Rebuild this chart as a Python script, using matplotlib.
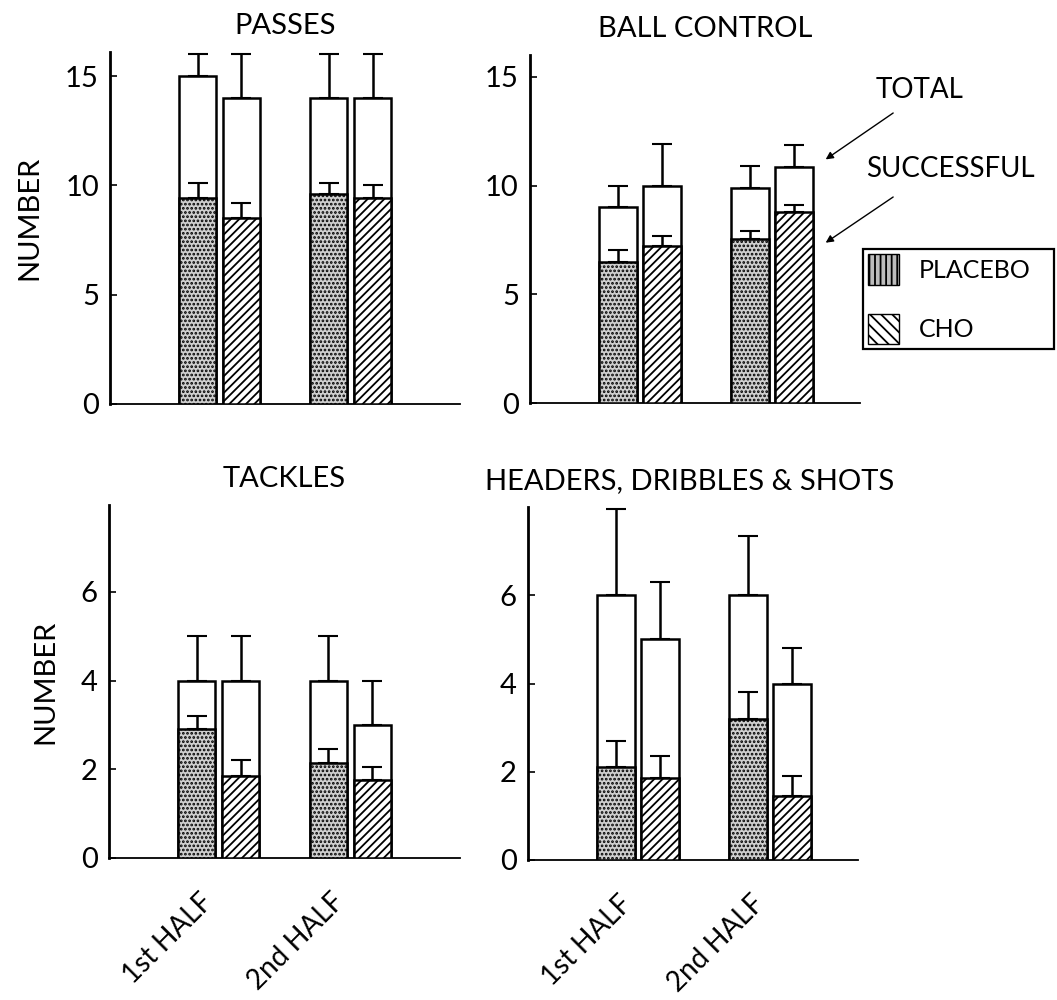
import matplotlib
matplotlib.use("Agg")
import matplotlib.pyplot as plt
from matplotlib.patches import Patch
from matplotlib.transforms import ScaledTranslation

plt.rcParams['font.family'] = ['Lato', 'DejaVu Sans']
plt.rcParams['hatch.linewidth'] = 1.3

# ---- data ----
groups = ["1st HALF", "2nd HALF"]
bar_order = ["PLACEBO 1st", "CHO 1st", "PLACEBO 2nd", "CHO 2nd"]

passes_total = [15.0, 14.0, 14.0, 14.0]
passes_total_err = [1.0, 2.0, 2.0, 2.0]
passes_succ = [9.4, 8.5, 9.6, 9.4]
passes_succ_err = [0.7, 0.7, 0.5, 0.6]

ball_total = [9.0, 10.0, 9.9, 10.85]
ball_total_err = [1.0, 1.9, 1.0, 1.0]
ball_succ = [6.5, 7.2, 7.55, 8.8]
ball_succ_err = [0.55, 0.5, 0.35, 0.3]

tackles_total = [4.0, 4.0, 4.0, 3.0]
tackles_total_err = [1.0, 1.0, 1.0, 1.0]
tackles_succ = [2.9, 1.85, 2.15, 1.75]
tackles_succ_err = [0.3, 0.35, 0.3, 0.3]

hds_total = [6.0, 5.0, 6.0, 4.0]
hds_total_err = [1.95, 1.3, 1.35, 0.8]
hds_succ = [2.1, 1.85, 3.2, 1.45]
hds_succ_err = [0.6, 0.5, 0.6, 0.45]

xpos = [0, 1, 3, 4]
group_centers = [0.5, 3.5]
hatches = ['....', '////']
faces = ['#cfcfcf', 'white']

fig = plt.figure(figsize=(10.57, 10.0), dpi=100)

panels = [
    ("PASSES", 0.5, [0.1041, 0.596, 0.3311, 0.352], (-2, 6), 16.1, [0, 5, 10, 15],
     passes_total, passes_total_err, passes_succ, passes_succ_err, 0.53, False),
    ("BALL CONTROL", 0.53, [0.5014, 0.597, 0.3122, 0.348], (-2, 5.5), 16.0, [0, 5, 10, 15],
     ball_total, ball_total_err, ball_succ, ball_succ_err, None, False),
    ("TACKLES", 0.5, [0.1031, 0.142, 0.3321, 0.353], (-2, 6), 7.96, [0, 2, 4, 6],
     tackles_total, tackles_total_err, tackles_succ, tackles_succ_err, 0.5, True),
    ("HEADERS, DRIBBLES & SHOTS", 0.49, [0.4995, 0.140, 0.3122, 0.353], (-2, 5.5), 8.0, [0, 2, 4, 6],
     hds_total, hds_total_err, hds_succ, hds_succ_err, None, True),
]

axes = []
for (title, tx, rect, xl, ytop, yt, tot, tot_e, suc, suc_e, ylab_y, xlab) in panels:
    ax = fig.add_axes(rect)
    axes.append(ax)
    # total bars (white)
    ax.bar(xpos, tot, width=0.85, facecolor='white', edgecolor='black', linewidth=1.8, zorder=2)
    ax.errorbar(xpos, tot, yerr=[[0] * 4, tot_e], fmt='none', ecolor='black',
                elinewidth=1.8, capsize=7, capthick=1.5, zorder=3)
    # successful bars (hatched)
    for i, x in enumerate(xpos):
        k = i % 2
        ax.bar(x, suc[i], width=0.85, facecolor=faces[k], edgecolor='black',
               hatch=hatches[k], linewidth=1.8, zorder=4)
    ax.errorbar(xpos, suc, yerr=[[0] * 4, suc_e], fmt='none', ecolor='black',
                elinewidth=1.8, capsize=7, capthick=1.5, zorder=5)
    ax.set_xlim(*xl)
    ax.set_ylim(0, ytop)
    ax.set_yticks(yt)
    ax.spines['top'].set_visible(False)
    ax.spines['right'].set_visible(False)
    ax.spines['left'].set_linewidth(2.0)
    ax.spines['bottom'].set_linewidth(1.3)
    ax.tick_params(axis='y', direction='in', length=5, width=1.2, labelsize=21, pad=8)
    ax.set_title(title, fontsize=21, pad=13, x=tx)
    if ylab_y is not None:
        ax.set_ylabel("NUMBER", fontsize=21, labelpad=16)
        ax.yaxis.label.set_y(ylab_y)
    if xlab:
        ax.set_xticks(group_centers)
        ax.set_xticklabels(groups, rotation=45, ha='right', va='top',
                           rotation_mode='anchor', fontsize=20)
        ax.tick_params(axis='x', length=0, pad=22)
        for lbl in ax.get_xticklabels():
            lbl.set_transform(lbl.get_transform() +
                              ScaledTranslation(-14 / 72, 0, fig.dpi_scale_trans))
    else:
        ax.set_xticks([])

# annotations on BALL CONTROL
axb = axes[1]
fig.text(0.828, 0.910, "TOTAL", fontsize=20, ha='left', va='center')
fig.text(0.819, 0.831, "SUCCESSFUL", fontsize=20, ha='left', va='center')
axb.annotate("", xy=(4.72, 11.2), xytext=(0.845, 0.887), textcoords='figure fraction',
             annotation_clip=False,
             arrowprops=dict(arrowstyle='-|>', color='black', lw=1.0, shrinkA=0, shrinkB=0,
                             mutation_scale=11))
axb.annotate("", xy=(4.72, 7.37), xytext=(0.845, 0.803), textcoords='figure fraction',
             annotation_clip=False,
             arrowprops=dict(arrowstyle='-|>', color='black', lw=1.0, shrinkA=0, shrinkB=0,
                             mutation_scale=11))

handles = [Patch(facecolor='#bdbdbd', edgecolor='black', hatch='|||', label='PLACEBO'),
           Patch(facecolor='white', edgecolor='black', hatch='\\\\\\', label='CHO')]
leg = fig.legend(handles=handles, loc='upper left',
                 bbox_to_anchor=(0.8165, 0.751, 0.1807, 0.0), mode='expand',
                 fancybox=False, edgecolor='black', framealpha=1, fontsize=18,
                 handlelength=1.24, handleheight=1.52, labelspacing=1.15, borderpad=0.2,
                 handletextpad=0.8, borderaxespad=0)
leg.get_frame().set_linewidth(1.6)

fig.savefig("out.png", dpi=100)
